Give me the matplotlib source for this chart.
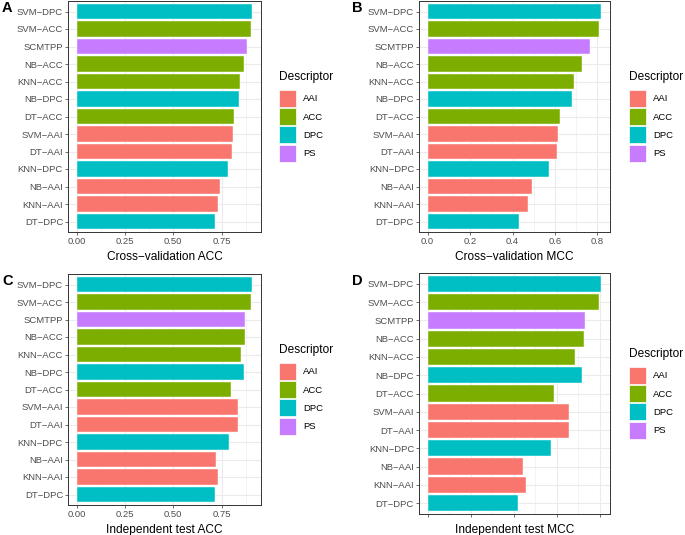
import matplotlib.pyplot as plt
from matplotlib.patches import Patch
from matplotlib.ticker import FixedLocator, NullFormatter

plt.rcParams["font.family"] = ["Liberation Sans", "DejaVu Sans"]

OUTPUT_FIG = "out.png"

MODELS = ["SVM−DPC", "SVM−ACC", "SCMTPP", "NB−ACC", "KNN−ACC", "NB−DPC", "DT−ACC",
          "SVM−AAI", "DT−AAI", "KNN−DPC", "NB−AAI", "KNN−AAI", "DT−DPC"]
DESCRIPTOR = ["DPC", "ACC", "PS", "ACC", "ACC", "DPC", "ACC",
              "AAI", "AAI", "DPC", "AAI", "AAI", "DPC"]

CV_ACC = [0.909, 0.905, 0.883, 0.864, 0.845, 0.838, 0.812, 0.809, 0.805, 0.784, 0.743, 0.734, 0.714]
CV_MCC = [0.818, 0.808, 0.764, 0.725, 0.688, 0.679, 0.624, 0.615, 0.610, 0.570, 0.492, 0.472, 0.428]
IT_ACC = [0.909, 0.903, 0.871, 0.869, 0.850, 0.864, 0.798, 0.833, 0.834, 0.790, 0.722, 0.733, 0.714]
IT_MCC = [0.806, 0.793, 0.730, 0.724, 0.686, 0.718, 0.587, 0.654, 0.657, 0.572, 0.444, 0.457, 0.421]

LEVELS = ["AAI", "ACC", "DPC", "PS"]
PALETTE = {"AAI": "#F8766D", "ACC": "#7CAE00", "DPC": "#00BFC4", "PS": "#C77CFF"}

ACC_TICKS = [0.0, 0.25, 0.5, 0.75]
ACC_LABELS = ["0.00", "0.25", "0.50", "0.75"]
MCC_TICKS = [0.0, 0.2, 0.4, 0.6, 0.8]
MCC_LABELS = ["0.0", "0.2", "0.4", "0.6", "0.8"]

W, H = 685, 535
TICK_FS = 6.8
TITLE_FS = 8.6


def px_axes(fig, left, top, right, bottom):
    return fig.add_axes([left / W, 1 - bottom / H, (right - left) / W, (bottom - top) / H])


def draw_panel(ax, values, xlabel, ticks, labels, show_labels=True):
    n = len(MODELS)
    ypos = list(range(n))
    colors = [PALETTE[d] for d in DESCRIPTOR]
    ax.barh(ypos, values, height=0.9, color=colors, edgecolor="white", linewidth=0.3, zorder=3)

    vmax = max(values)
    ax.set_xlim(-0.05 * vmax, 1.05 * vmax)
    ax.set_ylim(n - 0.4, -0.6)

    ax.set_yticks(ypos)
    ax.set_yticklabels(MODELS, fontsize=TICK_FS, color="#4D4D4D")
    ax.set_xticks(ticks)
    if show_labels:
        ax.set_xticklabels(labels, fontsize=TICK_FS, color="#4D4D4D")
    else:
        ax.xaxis.set_major_formatter(NullFormatter())
    step = ticks[1] - ticks[0]
    minors = [t + step / 2 for t in ticks if t + step / 2 < 1.05 * vmax]
    ax.xaxis.set_minor_locator(FixedLocator(minors))

    ax.grid(which="major", color="#EBEBEB", linewidth=0.8, zorder=0)
    ax.grid(which="minor", axis="x", color="#EBEBEB", linewidth=0.4, zorder=0)
    ax.set_axisbelow(True)
    ax.tick_params(which="major", length=2.1, width=0.5, color="#333333", pad=1.5)
    ax.tick_params(which="minor", length=0)
    for s in ax.spines.values():
        s.set_color("#333333")
        s.set_linewidth(0.7)
    ax.set_xlabel(xlabel, fontsize=TITLE_FS, labelpad=3.5)


def add_legend(ax, x, y):
    handles = [Patch(facecolor=PALETTE[k], edgecolor="white", linewidth=0.5, label=k) for k in LEVELS]
    leg = ax.legend(handles=handles, title="Descriptor", loc="upper left",
                    bbox_to_anchor=(x / W, 1 - y / H), bbox_transform=ax.figure.transFigure,
                    frameon=False, fontsize=TICK_FS, title_fontsize=TITLE_FS,
                    handlelength=1.85, handleheight=2.38, labelspacing=0.14,
                    handletextpad=0.7, borderpad=0, borderaxespad=0)
    leg._legend_box.align = "left"
    leg._legend_box.sep = 5


def main():
    fig = plt.figure(figsize=(W / 100, H / 100), dpi=100)

    ax_a = px_axes(fig, 68, 1, 261, 232)
    ax_b = px_axes(fig, 419, 1, 610, 232)
    ax_c = px_axes(fig, 68, 274, 261, 505)
    ax_d = px_axes(fig, 419, 273, 610, 514)

    draw_panel(ax_a, CV_ACC, "Cross−validation ACC", ACC_TICKS, ACC_LABELS)
    draw_panel(ax_b, CV_MCC, "Cross−validation MCC", MCC_TICKS, MCC_LABELS)
    draw_panel(ax_c, IT_ACC, "Independent test ACC", ACC_TICKS, ACC_LABELS)
    draw_panel(ax_d, IT_MCC, "Independent test MCC", MCC_TICKS, MCC_LABELS, show_labels=False)

    add_legend(ax_a, 279, 71)
    add_legend(ax_b, 629, 71)
    add_legend(ax_c, 279, 344)
    add_legend(ax_d, 629, 348)

    for label, (x, y) in zip("ABCD", [(2, 1), (352, 1), (2, 274), (352, 274)]):
        fig.text(x / W, 1 - y / H, label, fontsize=10.5, fontweight="bold", ha="left", va="top")

    fig.savefig(OUTPUT_FIG, dpi=100)


if __name__ == "__main__":
    main()
